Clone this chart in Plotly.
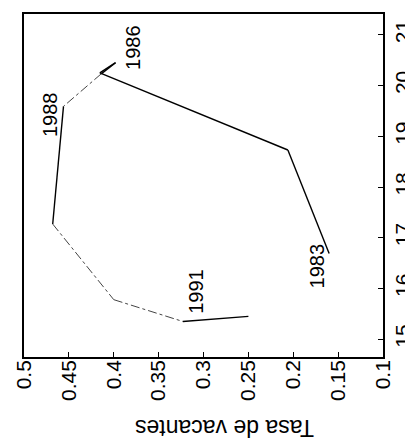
import plotly.graph_objects as go

years = [1983, 1984, 1985, 1986, 1987, 1988, 1989, 1990, 1991, 1992]
vacancy_rate = [0.160, 0.206, 0.4155, 0.398, 0.414, 0.456, 0.468, 0.400, 0.323, 0.250]
unemployment_rate = [16.69, 18.73, 20.25, 20.45, 20.23, 19.59, 17.27, 15.78, 15.35, 15.45]

label_years = [1983, 1986, 1988, 1991]
label_vacancy = [0.1738, 0.3786, 0.4703, 0.3092]
label_unemployment = [16.45, 20.76, 19.43, 15.94]

x_ticks = [0.5, 0.45, 0.4, 0.35, 0.3, 0.25, 0.2, 0.15, 0.1]
x_tick_text = ["0.5", "0.45", "0.4", "0.35", "0.3", "0.25", "0.2", "0.15", "0.1"]
y_ticks = [15, 16, 17, 18, 19, 20, 21]
y_tick_text = ["15", "16", "17", "18", "19", "20", "21"]

x_title = "Tasa de vacantes"

# segment style: True = solid dark line, False = faint dashed line
seg_solid = [True, True, True, True, False, True, False, False, True]

FONT = "Liberation Sans, Arial, Helvetica, sans-serif"

fig = go.Figure()
for i, solid in enumerate(seg_solid):
    fig.add_trace(go.Scatter(
        x=vacancy_rate[i:i + 2],
        y=unemployment_rate[i:i + 2],
        mode="lines",
        line=dict(color="#000000" if solid else "#444444",
                  width=1.4 if solid else 1.0,
                  dash="solid" if solid else "dashdot"),
        showlegend=False,
        hoverinfo="skip",
    ))

for yr, vx, uy in zip(label_years, label_vacancy, label_unemployment):
    fig.add_annotation(
        x=vx, y=uy, xref="x", yref="y", text=str(yr), showarrow=False,
        textangle=-90, font=dict(family=FONT, size=20, color="black"),
        xanchor="center", yanchor="middle",
    )

fig.add_annotation(
    x=0.557, y=-0.205, xref="paper", yref="paper", text=x_title,
    showarrow=False, textangle=180,
    font=dict(family=FONT, size=23, color="black"),
    xanchor="center", yanchor="middle",
)

fig.update_layout(
    width=413, height=443,
    margin=dict(l=16, r=38, t=4, b=94),
    paper_bgcolor="white", plot_bgcolor="white",
    showlegend=False,
    xaxis=dict(
        range=[0.5, 0.1], tickvals=x_ticks, ticktext=x_tick_text,
        tickangle=-90, ticks="inside", ticklen=5, tickwidth=1, tickcolor="black",
        ticklabelstandoff=-7,
        showline=True, linecolor="black", linewidth=1.5, mirror=True,
        showgrid=False, zeroline=False,
        tickfont=dict(family=FONT, size=21, color="black"),
    ),
    yaxis=dict(
        range=[14.65, 21.41], tickvals=y_ticks, ticktext=y_tick_text,
        side="right", tickangle=-90, ticks="inside", ticklen=5, tickwidth=1,
        tickcolor="black", ticklabelstandoff=0,
        showline=True, linecolor="black", linewidth=1.5, mirror=True,
        showgrid=False, zeroline=False,
        tickfont=dict(family=FONT, size=21, color="black"),
    ),
)

fig.write_html("out.html")
